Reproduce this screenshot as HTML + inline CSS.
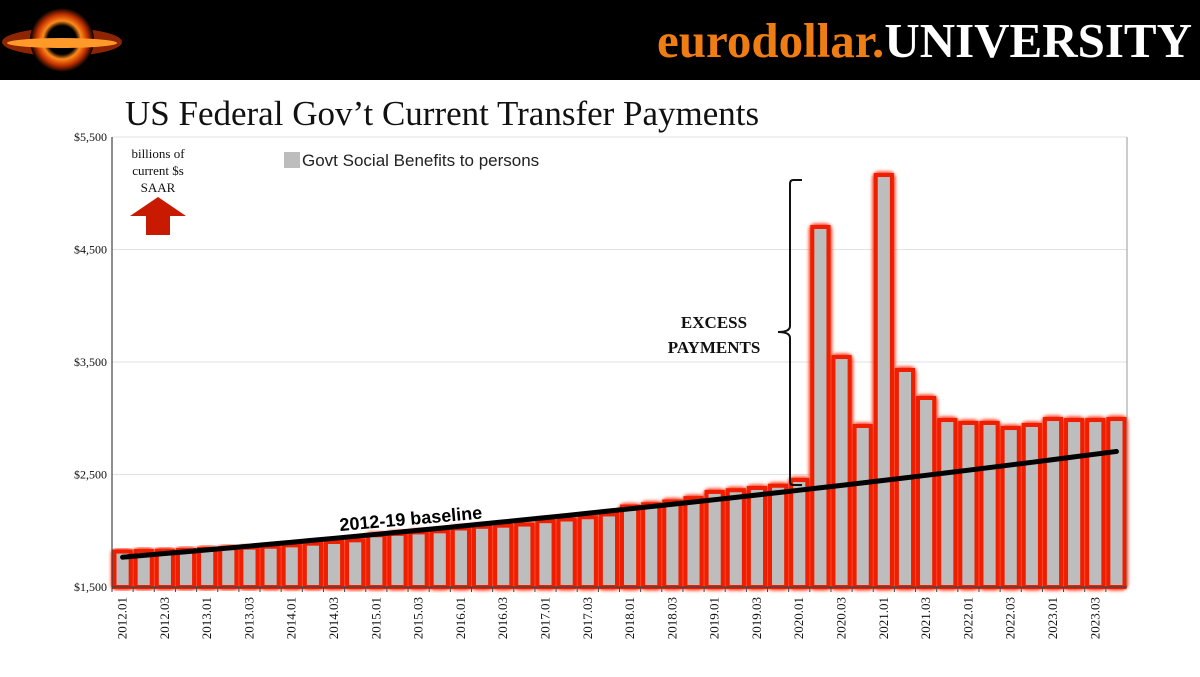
<!DOCTYPE html>
<html><head><meta charset="utf-8"><style>
body{margin:0;width:1200px;height:672px;overflow:hidden;background:#fff;font-family:"Liberation Serif",serif}
</style></head><body>
<svg width="1200" height="672" viewBox="0 0 1200 672" xmlns="http://www.w3.org/2000/svg">
<defs>
<filter id="glow" x="-50%" y="-10%" width="200%" height="120%"><feGaussianBlur stdDeviation="1.5"/></filter>
<radialGradient id="lg" cx="50%" cy="50%" r="50%"><stop offset="0" stop-color="#000"/><stop offset="0.45" stop-color="#000"/><stop offset="0.6" stop-color="#ff8a1a"/><stop offset="0.8" stop-color="#c03000"/><stop offset="1" stop-color="#000"/></radialGradient>
</defs>
<rect x="0" y="0" width="1200" height="80" fill="#000"/>
<g>
<ellipse cx="62" cy="42" rx="60" ry="14" fill="#b03000" opacity="0.8"/>
<circle cx="62" cy="40" r="32" fill="url(#lg)"/>
<ellipse cx="62" cy="43" rx="55" ry="5" fill="#ff9a2a"/>
</g>
<text x="1192" y="57" text-anchor="end" font-family="Liberation Serif,serif" font-weight="bold" font-size="49"><tspan fill="#f07c14">eurodollar.</tspan><tspan fill="#fff">UNIVERSITY</tspan></text>
<text x="125" y="125" font-size="35" fill="#111">US Federal Gov’t Current Transfer Payments</text>
<g id="grid"></g>
<g id="bars"></g>
<g id="axes"></g>
<g>
<rect x="284" y="152" width="16" height="16" fill="#bdbdbd"/>
<text x="302" y="166" font-family="Liberation Sans,sans-serif" font-size="17" fill="#222">Govt Social Benefits to persons</text>
</g>
<g font-size="13" text-anchor="middle" fill="#111">
<text x="158" y="158">billions of</text><text x="158" y="175">current $s</text><text x="158" y="192">SAAR</text>
<polygon points="158,197 186,216 170,216 170,235 146,235 146,216 130,216" fill="#c81a00"/>
</g>
<g>
<path d="M802,180 L793,180 Q790,180 790,184 L790,326 Q790,332 778,332 Q790,332 790,338 L790,481 Q790,485 793,485 L802,485" fill="none" stroke="#111" stroke-width="2"/>
<text x="714" y="328" text-anchor="middle" font-weight="bold" font-size="17" fill="#111">EXCESS</text>
<text x="714" y="353" text-anchor="middle" font-weight="bold" font-size="17" fill="#111">PAYMENTS</text>
</g>
<g id="baseline"></g>
<g id="xlabels"></g>
</svg>
<script>
const categories=["2012.01","2012.02","2012.03","2012.04","2013.01","2013.02","2013.03","2013.04","2014.01","2014.02","2014.03","2014.04","2015.01","2015.02","2015.03","2015.04","2016.01","2016.02","2016.03","2016.04","2017.01","2017.02","2017.03","2017.04","2018.01","2018.02","2018.03","2018.04","2019.01","2019.02","2019.03","2019.04","2020.01","2020.02","2020.03","2020.04","2021.01","2021.02","2021.03","2021.04","2022.01","2022.02","2022.03","2022.04","2023.01","2023.02","2023.03","2023.04"];
const benefits=[1815,1820,1822,1828,1838,1845,1850,1858,1870,1885,1900,1915,1960,1972,1985,1995,2020,2035,2045,2055,2085,2100,2120,2145,2215,2235,2260,2290,2345,2360,2380,2400,2451,4700,3544,2931,5162,3429,3180,2984,2958,2958,2913,2940,2993,2984,2984,2993];
const baselineEnds=[1765,2705];
const yTicks=[1500,2500,3500,4500,5500];
const yTickLabels=["$1,500","$2,500","$3,500","$4,500","$5,500"];
const NS="http://www.w3.org/2000/svg";
const L=112,R=1127,T=137,B=587,yMin=1500,yMax=5500;
const bw=(R-L)/categories.length;
const y=v=>B-(v-yMin)/(yMax-yMin)*(B-T);
const xc=i=>L+bw*(i+0.5);
function mk(tag,attrs,parent){const e=document.createElementNS(NS,tag);for(const k in attrs)e.setAttribute(k,attrs[k]);parent.appendChild(e);return e;}
const grid=document.getElementById('grid'),axes=document.getElementById('axes'),bars=document.getElementById('bars'),xl=document.getElementById('xlabels'),bl=document.getElementById('baseline');
yTicks.forEach((t,i)=>{
 if(i>0){const g=mk('line',{x1:L,x2:R,y1:y(t),y2:y(t),stroke:'#e2e2e2','stroke-width':1},grid);
 
 }
 const tx=mk('text',{x:L-5,y:y(t)+4,'text-anchor':'end','font-size':12,fill:'#111'},axes);
 tx.textContent=yTickLabels[i];
 
 
});
benefits.forEach((v,i)=>{
 const x0=L+bw*i+2.5,w=bw-5;
 const gl=mk('rect',{x:x0,y:y(v),width:w,height:B-y(v),fill:'none',stroke:'#ff3a1a','stroke-width':7,filter:'url(#glow)',rx:3},bars);
 
 
});
benefits.forEach((v,i)=>{
 const x0=L+bw*i+2.5,w=bw-5;
 const r=mk('rect',{x:x0,y:y(v),width:w,height:B-y(v),fill:'#bdbdbd',stroke:'#f01e00','stroke-width':4},bars);
 
 
 const tk=mk('line',{x1:L+bw*i,x2:L+bw*i,y1:B,y2:B+5,stroke:'#444'},axes);
 
 
 if(i%2===0){const t=mk('text',{x:0,y:0,'text-anchor':'end','font-size':13,fill:'#111',transform:`translate(${xc(i)+4},597) rotate(-90)`},xl);
 t.textContent=categories[i].slice(0,4)+(i%4===0?'.01':'.03');
 
 }
});
const ya=mk('line',{x1:L,x2:L,y1:T,y2:B,stroke:'#444','stroke-width':1.2},axes);


const ra=mk('line',{x1:R,x2:R,y1:T,y2:B,stroke:'#999','stroke-width':1},axes);


const xa=mk('line',{x1:L,x2:R,y1:B,y2:B,stroke:'#444','stroke-width':1.2},axes);


const n=categories.length,g=Math.pow(baselineEnds[1]/baselineEnds[0],1/(n-1));
let d='';for(let i=0;i<n;i++){d+=(i?'L':'M')+xc(i)+','+y(baselineEnds[0]*Math.pow(g,i));}
const p=mk('path',{d:d,fill:'none',stroke:'#000','stroke-width':5,'stroke-linecap':'round'},bl);


const lt=mk('text',{x:0,y:0,'font-family':'Liberation Sans,sans-serif','font-weight':'bold','font-size':18,fill:'#000',transform:'translate(340,531) rotate(-5)'},bl);
lt.textContent='2012-19 baseline';


</script>
</body></html>
